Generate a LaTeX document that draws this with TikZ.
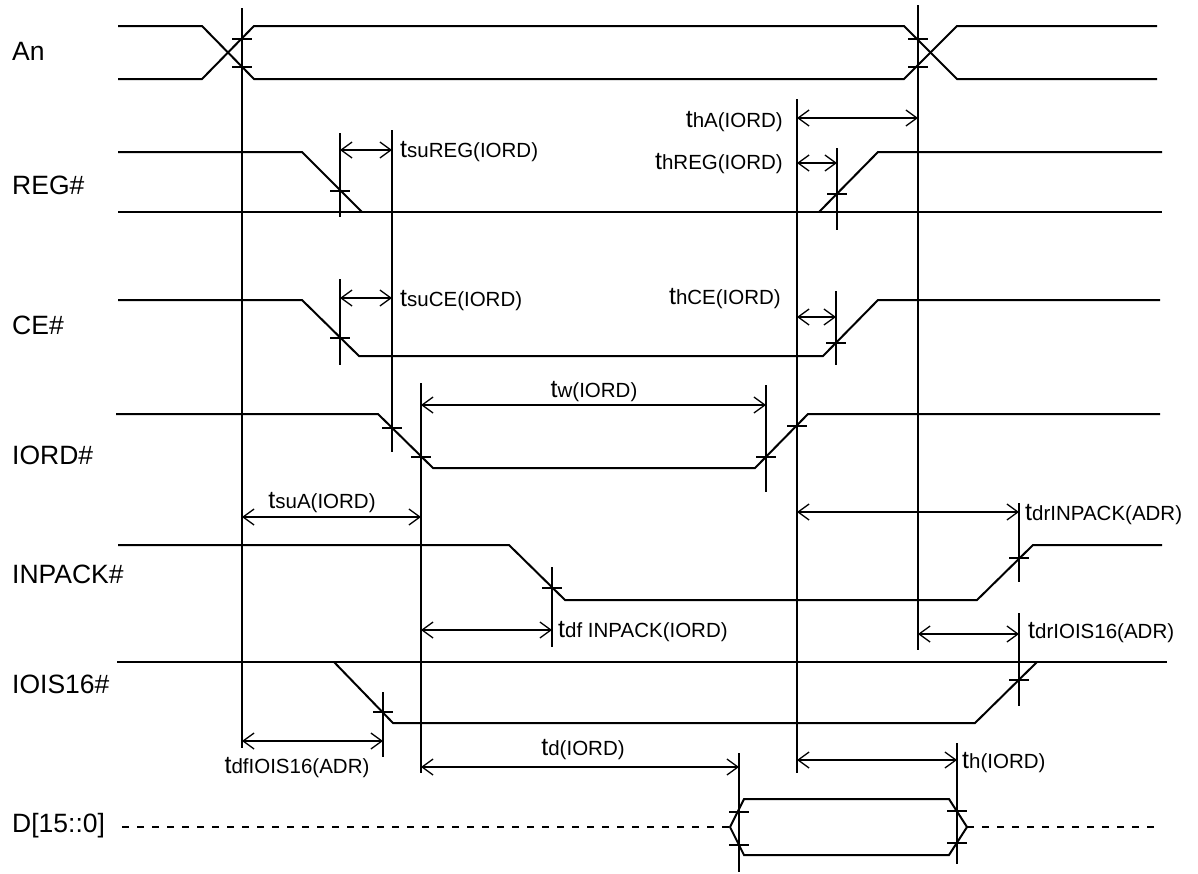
\documentclass[tikz,border=0pt]{standalone}
\usepackage{fontspec}
\setmainfont{Liberation Sans}
\usetikzlibrary{arrows.meta}
\newcommand\tlab[1]{{\fontsize{25}{25}\selectfont t}{\fontsize{20.5}{22}\selectfont #1}}
\begin{document}
\begin{tikzpicture}[x=1pt,y=-1pt,
  sig/.style={line width=2pt, line join=miter},
  vline/.style={line width=1.5pt},
  tickmark/.style={line width=2pt},
  dim/.style={line width=1.3pt, {Straight Barb[length=11pt,width=16pt]}-{Straight Barb[length=11pt,width=16pt]}},
  signame/.style={anchor=west, inner sep=0pt, font=\fontsize{26.5}{28}\selectfont},
  tl/.style={inner sep=0pt}]
\useasboundingbox (0,0) rectangle (1198,873);
% signal names
\node[signame] (nAn) at (12,51) {An};
\node[signame] (nREG) at (12,185) {REG\#};
\node[signame] (nCE) at (12,325) {CE\#};
\node[signame] (nIORD) at (12,455) {IORD\#};
\node[signame] (nINP) at (12,574) {INPACK\#};
\node[signame] (nIOIS) at (12,684) {IOIS16\#};
\node[signame] (nD) at (12,826) {D[15::0]};
% An
\draw[sig] (118,26) -- (202,26) -- (254,79) -- (904,79) -- (957,26) -- (1157,26);
\draw[sig] (118,79) -- (202,79) -- (254,26) -- (904,26) -- (957,79) -- (1157,79);
% REG#
\draw[sig] (118,152) -- (302,152) -- (362,212);
\draw[sig] (118,212) -- (1162,212);
\draw[sig] (819,212) -- (878,152) -- (1162,152);
% CE#
\draw[sig] (118,300) -- (302,300) -- (359,356) -- (823,356) -- (878,300) -- (1160,300);
% IORD#
\draw[sig] (116,414) -- (378,414) -- (433,468) -- (755,468) -- (808,414) -- (1160,414);
% INPACK#
\draw[sig] (118,545) -- (509,545) -- (565,600) -- (977,600) -- (1033,545) -- (1162,545);
% IOIS16#
\draw[sig] (117,662) -- (1167,662);
\draw[sig] (334,662) -- (393,723) -- (975,723) -- (1037,662);
% D bus
\draw[sig, dash pattern=on 7pt off 8pt] (122,827) -- (730,827);
\draw[sig, dash pattern=on 7pt off 8pt] (967,827) -- (1154,827);
\draw[sig] (730,827) -- (744,799) -- (949,799) -- (967,827) -- (949,855) -- (744,855) -- cycle;
% vertical reference lines
\coordinate (v1t) at (242,8);   \coordinate (v1b) at (242,748);
\coordinate (v2t) at (918,5);   \coordinate (v2b) at (918,650);
\coordinate (v3t) at (392,130); \coordinate (v3b) at (392,452);
\coordinate (v4t) at (421,383); \coordinate (v4b) at (421,773);
\coordinate (v5t) at (797,99);  \coordinate (v5b) at (797,773);
\draw[vline] (v1t) -- (v1b);
\draw[vline] (v2t) -- (v2b);
\draw[vline] (v3t) -- (v3b);
\draw[vline] (v4t) -- (v4b);
\draw[vline] (v5t) -- (v5b);
\draw[vline] (340,133) -- (340,217);
\draw[vline] (340,279) -- (340,365);
\draw[vline] (837,148) -- (837,230);
\draw[vline] (836,291) -- (836,365);
\draw[vline] (766,385) -- (766,492);
\draw[vline] (552,567) -- (552,647);
\draw[vline] (1019,503) -- (1019,582);
\draw[vline] (1019,613) -- (1019,706);
\draw[vline] (383,692) -- (383,757);
\draw[vline] (739,753) -- (739,872);
\draw[vline] (957,743) -- (957,864);
% ticks
\foreach \p in {(242,39),(242,67),(918,39),(918,67),(340,191),(837,194),(340,338),(836,343),
  (392,428),(421,457),(766,457),(797,426),(552,588),(1019,558),(383,712),(1019,680),
  (739,812),(739,845),(957,811),(957,843)}
  \draw[tickmark] \p ++(-10,0) -- ++(20,0);
% dimension arrows
\draw[dim] (340,150) -- (392,150);
\draw[dim] (797,118) -- (918,118);
\draw[dim] (797,163) -- (837,163);
\draw[dim] (340,298) -- (392,298);
\draw[dim] (797,317) -- (836,317);
\draw[dim] (421,405) -- (766,405);
\draw[dim] (242,517) -- (421,517);
\draw[dim] (797,512) -- (1019,512);
\draw[dim] (421,630) -- (552,630);
\draw[dim] (918,634) -- (1019,634);
\draw[dim] (242,741) -- (383,741);
\draw[dim] (421,767) -- (739,767);
\draw[dim] (797,760) -- (957,760);
% timing labels
\node[tl, anchor=west] (lsuREG) at (400,152) {\tlab{suREG(IORD)}};
\node[tl, anchor=east] (lhA) at (783,122) {\tlab{hA(IORD)}};
\node[tl, anchor=east] (lhREG) at (783,164) {\tlab{hREG(IORD)}};
\node[tl, anchor=west] (lsuCE) at (400,301) {\tlab{suCE(IORD)}};
\node[tl, anchor=east] (lhCE) at (781,299) {\tlab{hCE(IORD)}};
\node[tl] (lw) at (594,392) {\tlab{w(IORD)}};
\node[tl] (lsuA) at (322,503) {\tlab{suA(IORD)}};
\node[tl, anchor=west] (ldrINP) at (1025,515) {\tlab{drINPACK(ADR)}};
\node[tl, anchor=west] (ldfINP) at (558,632) {\tlab{df INPACK(IORD)}};
\node[tl, anchor=west] (ldrIOIS) at (1028,633) {\tlab{drIOIS16(ADR)}};
\node[tl] (ldfIOIS) at (297,768) {\tlab{dfIOIS16(ADR)}};
\node[tl] (ld) at (583,750) {\tlab{d(IORD)}};
\node[tl, anchor=west] (lh) at (962,763) {\tlab{h(IORD)}};
\end{tikzpicture}
\end{document}
